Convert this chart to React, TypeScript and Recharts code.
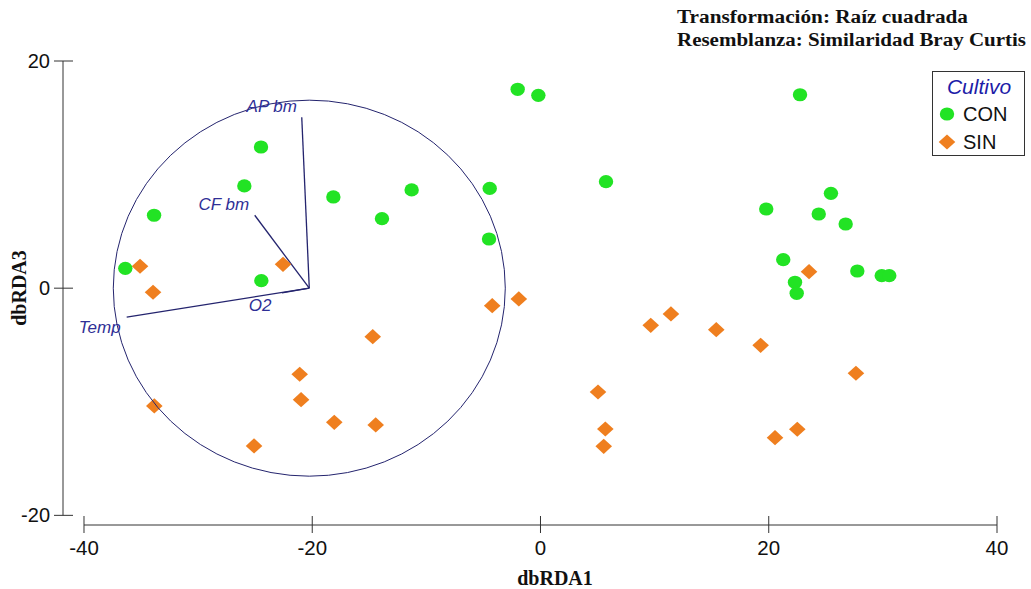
import React from 'react';
import { ScatterChart, Scatter, XAxis, YAxis, ReferenceLine, ReferenceDot, Legend, Label } from 'recharts';

// ---- data ----
const conX = [-36.38, -33.86, -24.49, -25.95, -24.46, -18.15, -13.89, -11.29, -4.45, -4.51, -2.0, -0.19, 5.74, 22.74, 19.78, 25.45, 24.38, 26.74, 21.27, 22.3, 22.45, 27.76, 29.9, 30.56];
const conY = [1.75, 6.42, 12.43, 9.0, 0.66, 8.03, 6.12, 8.65, 8.78, 4.33, 17.51, 16.98, 9.38, 17.03, 6.97, 8.35, 6.53, 5.65, 2.51, 0.52, -0.45, 1.51, 1.1, 1.1];
const sinX = [-35.09, -33.95, -22.56, -33.84, -21.1, -20.98, -18.07, -14.44, -25.1, -14.7, -4.23, -1.9, 9.66, 11.43, 15.4, 19.29, 23.53, 27.64, 5.04, 5.68, 5.54, 20.55, 22.5];
const sinY = [1.93, -0.36, 2.1, -10.37, -7.58, -9.82, -11.81, -12.04, -13.89, -4.27, -1.54, -0.95, -3.27, -2.27, -3.65, -5.03, 1.45, -7.49, -9.14, -12.4, -13.92, -13.16, -12.42];

const xTicks = [-40, -20, 0, 20, 40];
const yTicks = [-20, 0, 20];
const xDomain: [number, number] = [-41.84, 40];
const yDomain: [number, number] = [-20.85, 20];

const vectorOrigin = { x: -20.26, y: 0 };
const vectorNames = ['AP bm', 'CF bm', 'O2', 'Temp'];
const vectorX = [-20.92, -25.04, -22.65, -36.26];
const vectorY = [15.04, 6.42, -0.42, -2.54];
const vectorLabelDx = [-30, -31, -22, -27];
const vectorLabelDy = [-11, -11, 13, 10];

const seriesNames = ['CON', 'SIN'];
const seriesColors = ['#22e324', '#ef7f1f'];
const legendTitle = 'Cultivo';
const titleLines = ['Transformación: Raíz cuadrada', 'Resemblanza: Similaridad Bray Curtis'];
const xLabel = 'dbRDA1';
const yLabel = 'dbRDA3';

const conData = conX.map((x, i) => ({ x, y: conY[i] }));
const sinData = sinX.map((x, i) => ({ x, y: sinY[i] }));

const SANS = '"Liberation Sans", Arial, sans-serif';
const SERIF = '"Liberation Serif", "Times New Roman", serif';
const VEC = '#24246e';
const LABEL_BLUE = '#2f2f96';

const XTick = (props: any) => {
  const { x, y, payload } = props;
  return (
    <g>
      <line x1={x} y1={y - 9} x2={x} y2={y + 8} stroke="#333" strokeWidth={1} />
      <text x={x} y={y + 29.5} textAnchor="middle" fontFamily={SANS} fontSize={20.5} fill="#111">{payload.value}</text>
    </g>
  );
};

const YTick = (props: any) => {
  const { x, y, payload } = props;
  return (
    <g>
      <line x1={x - 9} y1={y} x2={x + 10} y2={y} stroke="#333" strokeWidth={1} />
      <text x={x - 13} y={y + 7} textAnchor="end" fontFamily={SANS} fontSize={20} fill="#111">{payload.value}</text>
    </g>
  );
};

const circleShape = (props: any) => (
  <ellipse cx={props.cx} cy={props.cy} rx={7.2} ry={6.6} fill={seriesColors[0]} />
);
const diamondShape = (props: any) => {
  const { cx, cy } = props;
  const w = 8.3, h = 7.6;
  return <polygon points={`${cx},${cy - h} ${cx + w},${cy} ${cx},${cy + h} ${cx - w},${cy}`} fill={seriesColors[1]} />;
};

const LegendBox = (props: any) => {
  const items = (props.payload && props.payload.length ? props.payload.map((p: any) => p.value) : seriesNames) as string[];
  return (
    <svg width={94} height={86} style={{ display: 'block' }}>
      <rect x={0.5} y={0.5} width={92} height={84} fill="#fff" stroke="#333" strokeWidth={1} />
      <text x={47} y={23} textAnchor="middle" fontFamily={SANS} fontStyle="italic" fontSize={21} fill="#1c1ca8">{legendTitle}</text>
      {items.map((name, i) => {
        const cy = 43 + i * 28;
        const idx = seriesNames.indexOf(name);
        return (
          <g key={name}>
            {idx === 0 ? (
              <ellipse cx={15} cy={cy} rx={7.2} ry={6.6} fill={seriesColors[0]} />
            ) : (
              <polygon points={`15,${cy - 7.6} 23.3,${cy} 15,${cy + 7.6} 6.7,${cy}`} fill={seriesColors[1]} />
            )}
            <text x={31} y={cy + 7} fontFamily={SANS} fontSize={20} fill="#111">{name}</text>
          </g>
        );
      })}
    </svg>
  );
};

export default function App() {
  return (
    <div style={{ position: 'absolute', left: 0, top: 0, width: 1031, height: 589, background: '#fff' }}>
      <ScatterChart width={1031} height={589} margin={{ top: 61, right: 34, bottom: 0, left: 0 }}>
        <XAxis
          type="number"
          dataKey="x"
          domain={xDomain}
          ticks={xTicks}
          allowDataOverflow
          interval={0}
          axisLine={false}
          tickLine={false}
          tickSize={0}
          tickMargin={0}
          height={64}
          tick={<XTick />}
        >
          <Label
            content={(p: any) => {
              const vb = p.viewBox || { x: 63, y: 525, width: 934, height: 64 };
              return (
                <text x={vb.x + vb.width / 2 + 25} y={vb.y + 60} textAnchor="middle" fontFamily={SERIF} fontWeight="bold" fontSize={20} fill="#111">{xLabel}</text>
              );
            }}
          />
        </XAxis>
        <YAxis
          type="number"
          dataKey="y"
          domain={yDomain}
          ticks={yTicks}
          allowDataOverflow
          interval={0}
          axisLine={false}
          tickLine={false}
          tickSize={0}
          tickMargin={0}
          width={63}
          tick={<YTick />}
        >
          <Label
            content={(p: any) => {
              const vb = p.viewBox || { x: 0, y: 61, width: 63, height: 464 };
              const cx = vb.x + 19;
              const cy = vb.y + vb.height / 2 - 5;
              return (
                <text x={cx} y={cy} transform={`rotate(-90 ${cx} ${cy})`} textAnchor="middle" dominantBaseline="central" fontFamily={SERIF} fontWeight="bold" fontSize={20} fill="#111">{yLabel}</text>
              );
            }}
          />
        </YAxis>
        <Legend
          layout="vertical"
          verticalAlign="middle"
          align="center"
          wrapperStyle={{ position: 'absolute', left: 932, top: 71, width: 94, height: 86 }}
          content={<LegendBox />}
        />
        <Scatter name={seriesNames[0]} data={conData} fill={seriesColors[0]} shape={circleShape} isAnimationActive={false} />
        <Scatter name={seriesNames[1]} data={sinData} fill={seriesColors[1]} shape={diamondShape} isAnimationActive={false} />

        {/* axis lines */}
        <ReferenceLine segment={[{ x: xTicks[0], y: yDomain[0] }, { x: xTicks[xTicks.length - 1], y: yDomain[0] }]} stroke="#333" strokeWidth={1} ifOverflow="visible" />
        <ReferenceLine segment={[{ x: xDomain[0], y: yTicks[0] }, { x: xDomain[0], y: yTicks[yTicks.length - 1] }]} stroke="#333" strokeWidth={1} ifOverflow="visible" />

        {/* correlation circle */}
        <ReferenceDot
          x={vectorOrigin.x}
          y={vectorOrigin.y}
          r={1}
          ifOverflow="visible"
          shape={(p: any) => <ellipse cx={p.cx} cy={p.cy} rx={196} ry={188} fill="none" stroke={VEC} strokeWidth={1} />}
        />
        {/* vectors */}
        {vectorNames.map((n, i) => (
          <ReferenceLine
            key={'v' + n}
            segment={[{ x: vectorOrigin.x, y: vectorOrigin.y }, { x: vectorX[i], y: vectorY[i] }]}
            stroke={VEC}
            strokeWidth={1.3}
            ifOverflow="visible"
          />
        ))}
        {vectorNames.map((n, i) => (
          <ReferenceDot
            key={'l' + n}
            x={vectorX[i]}
            y={vectorY[i]}
            r={1}
            ifOverflow="visible"
            shape={(p: any) => (
              <text x={p.cx + vectorLabelDx[i]} y={p.cy + vectorLabelDy[i]} textAnchor="middle" dominantBaseline="central" fontFamily={SANS} fontStyle="italic" fontSize={17} fill={LABEL_BLUE}>{n}</text>
            )}
          />
        ))}
      </ScatterChart>
      <svg width={1031} height={60} style={{ position: 'absolute', left: 0, top: 0, pointerEvents: 'none' }}>
        <text x={677} y={23} fontFamily={SERIF} fontWeight="bold" fontSize={18} fill="#111" textLength={291} lengthAdjust="spacingAndGlyphs">{titleLines[0]}</text>
        <text x={677} y={46} fontFamily={SERIF} fontWeight="bold" fontSize={18} fill="#111" textLength={349} lengthAdjust="spacingAndGlyphs">{titleLines[1]}</text>
      </svg>
    </div>
  );
}
